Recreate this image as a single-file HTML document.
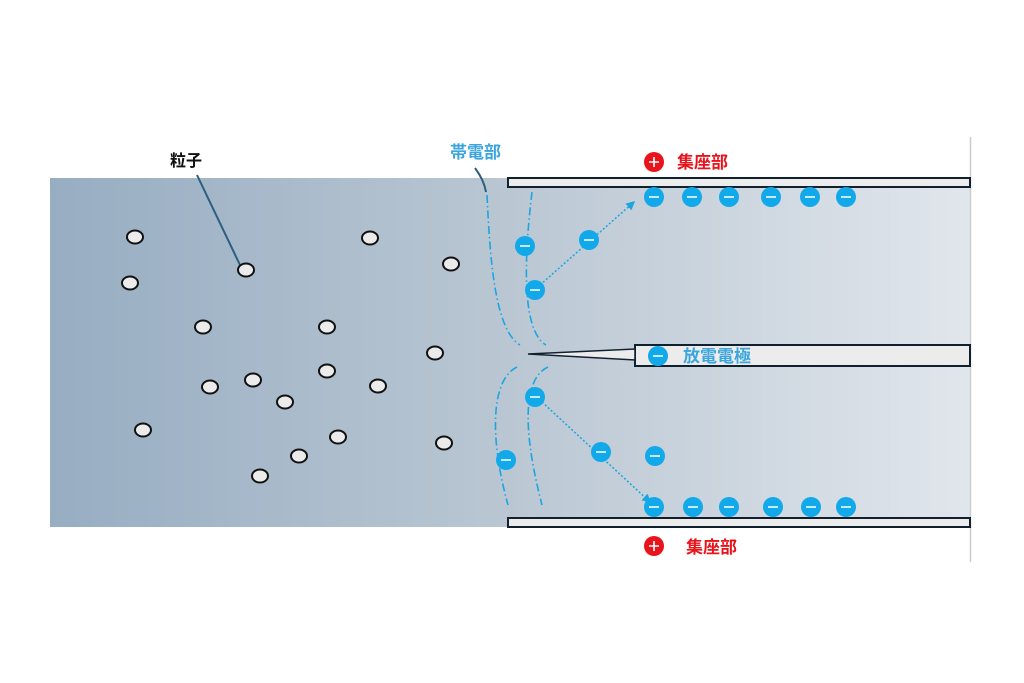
<!DOCTYPE html>
<html><head><meta charset="utf-8"><style>
body{margin:0;background:#fff}
svg{display:block}
text{font-family:"Liberation Sans","Noto Sans CJK JP",sans-serif;font-weight:bold}
</style></head><body>
<svg width="1024" height="683" viewBox="0 0 1024 683">
<defs>
<linearGradient id="g" x1="0" x2="1" y1="0" y2="0">
<stop offset="0" stop-color="#97adc2"/><stop offset="0.5" stop-color="#bac7d3"/><stop offset="1" stop-color="#e1e6ec"/>
</linearGradient>
<marker id="a" markerWidth="6" markerHeight="6" refX="5" refY="3" orient="auto"><path d="M0,0L6,3L0,6Z" fill="#1aa6e0"/></marker>
</defs>
<rect x="50" y="178" width="920" height="349" fill="url(#g)"/>
<line x1="970.5" y1="137" x2="970.5" y2="562" stroke="#ccc" stroke-width="1.5"/>
<rect x="508" y="178" width="462" height="9" fill="#ececec" stroke="#10202e" stroke-width="2"/>
<rect x="508" y="518" width="462" height="9" fill="#ececec" stroke="#10202e" stroke-width="2"/>
<rect x="635" y="345" width="335" height="21" fill="#ececec" stroke="#10202e" stroke-width="2"/>
<path d="M528,354 L635,349 L635,360 Z" fill="#ececec" stroke="#10202e" stroke-width="1.5"/>
<g fill="none" stroke="#1aa6e0" stroke-width="1.6" stroke-dasharray="8,3,1.5,3">
<path d="M487,195 C490,260 495,330 520,345"/>
<path d="M532,192 C525,250 520,330 546,345"/>
<path d="M517,367 C490,380 490,440 508,505"/>
<path d="M548,367 C520,380 525,440 542,505"/>
</g>
<path d="M197,175 L240,265" stroke="#2a5f80" stroke-width="2" fill="none"/>
<path d="M475,168 Q484,180 486,192" stroke="#2a5f80" stroke-width="2" fill="none"/>
<g stroke="#1aa6e0" stroke-width="1.5" stroke-dasharray="2,2" fill="none" marker-end="url(#a)">
<path d="M540,285 L634,202"/>
<path d="M542,402 L650,502"/>
</g>
<g fill="#ebebeb" stroke="#111" stroke-width="2">
<ellipse cx="135" cy="237" rx="8" ry="6.5"/><ellipse cx="130" cy="283" rx="8" ry="6.5"/>
<ellipse cx="246" cy="270" rx="8" ry="6.5"/><ellipse cx="370" cy="238" rx="8" ry="6.5"/>
<ellipse cx="451" cy="264" rx="8" ry="6.5"/><ellipse cx="203" cy="327" rx="8" ry="6.5"/>
<ellipse cx="327" cy="327" rx="8" ry="6.5"/><ellipse cx="435" cy="353" rx="8" ry="6.5"/>
<ellipse cx="210" cy="387" rx="8" ry="6.5"/><ellipse cx="253" cy="380" rx="8" ry="6.5"/>
<ellipse cx="327" cy="371" rx="8" ry="6.5"/><ellipse cx="378" cy="386" rx="8" ry="6.5"/>
<ellipse cx="285" cy="402" rx="8" ry="6.5"/><ellipse cx="143" cy="430" rx="8" ry="6.5"/>
<ellipse cx="338" cy="437" rx="8" ry="6.5"/><ellipse cx="299" cy="456" rx="8" ry="6.5"/>
<ellipse cx="260" cy="476" rx="8" ry="6.5"/><ellipse cx="444" cy="443" rx="8" ry="6.5"/>
</g>
<g fill="#12a9ea">
<circle cx="654" cy="197" r="10"/><circle cx="692" cy="197" r="10"/><circle cx="729" cy="197" r="10"/><circle cx="771" cy="197" r="10"/><circle cx="810" cy="197" r="10"/><circle cx="846" cy="197" r="10"/>
<circle cx="654" cy="507" r="10"/><circle cx="693" cy="507" r="10"/><circle cx="729" cy="507" r="10"/><circle cx="773" cy="507" r="10"/><circle cx="811" cy="507" r="10"/><circle cx="846" cy="507" r="10"/>
<circle cx="525" cy="246" r="10"/><circle cx="535" cy="290" r="10"/><circle cx="589" cy="240" r="10"/>
<circle cx="535" cy="397" r="10"/><circle cx="601" cy="452" r="10"/><circle cx="655" cy="456" r="10"/><circle cx="506" cy="460" r="10"/><circle cx="658" cy="356" r="10"/>
</g>
<g stroke="#fff" stroke-width="1.6">
<path d="M649,197h10M687,197h10M724,197h10M766,197h10M805,197h10M841,197h10M649,507h10M688,507h10M724,507h10M768,507h10M806,507h10M841,507h10M520,246h10M530,290h10M584,240h10M530,397h10M596,452h10M650,456h10M501,460h10M653,356h10"/>
</g>
<circle cx="654" cy="162" r="10" fill="#e8141b"/><path d="M649,162h10M654,157v10" stroke="#fff" stroke-width="1.6"/>
<circle cx="654" cy="546" r="10" fill="#e8141b"/><path d="M649,546h10M654,541v10" stroke="#fff" stroke-width="1.6"/>
<text x="170" y="166" font-size="16" fill="#111">粒子</text>
<text x="450" y="158" font-size="17" fill="#3aa6dd">帯電部</text>
<text x="677" y="168" font-size="17" fill="#e8141b">集座部</text>
<text x="686" y="553" font-size="17" fill="#e8141b">集座部</text>
<text x="683" y="362" font-size="17" fill="#3aa6dd">放電電極</text>
</svg>
</body></html>
